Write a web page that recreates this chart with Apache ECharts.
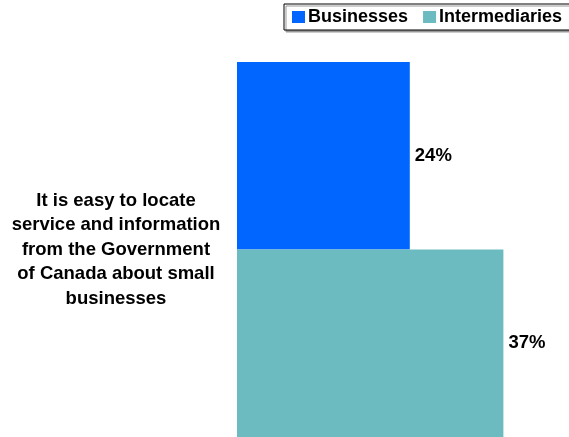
<!DOCTYPE html>
<html>
<head>
<meta charset="utf-8">
<script src="https://cdn.jsdelivr.net/npm/echarts@6/dist/echarts.min.js"></script>
<style>
  html, body { margin: 0; padding: 0; background: #fff; }
  #chart { width: 569px; height: 437px; }
</style>
</head>
<body>
<div id="chart"></div>
<script>
// Survey statement and share of respondents agreeing, by group
const categories = ['It is easy to locate\nservice and information\nfrom the Government\nof Canada about small\nbusinesses'];
const seriesNames = ['Businesses', 'Intermediaries'];
const businesses = [24];
const intermediaries = [37];

const FONT = 'Arial, "Liberation Sans", sans-serif';

const chart = echarts.init(document.getElementById('chart'), null, { renderer: 'canvas' });

chart.setOption({
  animation: false,
  backgroundColor: '#ffffff',
  legend: {
    data: seriesNames,
    orient: 'horizontal',
    left: 284,
    top: 4,
    width: 320,
    padding: [4, 20, 4, 8],
    itemWidth: 13,
    itemHeight: 12,
    itemGap: 15,
    icon: 'rect',
    borderColor: '#000',
    borderWidth: 1,
    backgroundColor: '#fff',
    shadowColor: '#999',
    shadowOffsetX: 2,
    shadowOffsetY: 2,
    shadowBlur: 0,
    textStyle: { fontFamily: FONT, fontWeight: 'bold', fontSize: 18, color: '#000', padding: [0, 0, 0, -2] }
  },
  grid: { left: 237, top: 62, width: 288, height: 376, containLabel: false },
  xAxis: {
    type: 'value',
    min: 0,
    max: 40,
    show: false
  },
  yAxis: {
    type: 'category',
    data: categories,
    inverse: true,
    axisLine: { show: false },
    axisTick: { show: false },
    axisLabel: {
      margin: 121,
      align: 'center',
      lineHeight: 24.5,
      fontFamily: FONT,
      fontWeight: 'bold',
      fontSize: 18.5,
      color: '#000'
    }
  },
  series: [
    {
      name: seriesNames[0],
      type: 'bar',
      data: businesses,
      barGap: '0%',
      barCategoryGap: '0%',
      itemStyle: { color: '#0066ff' },
      label: {
        show: true, position: 'right', distance: 5, formatter: '{c}%',
        fontFamily: FONT, fontWeight: 'bold', fontSize: 18.5, color: '#000'
      }
    },
    {
      name: seriesNames[1],
      type: 'bar',
      data: intermediaries,
      barGap: '0%',
      barCategoryGap: '0%',
      itemStyle: { color: '#6bbbc0' },
      label: {
        show: true, position: 'right', distance: 5, formatter: '{c}%',
        fontFamily: FONT, fontWeight: 'bold', fontSize: 18.5, color: '#000'
      }
    }
  ]
});
</script>
</body>
</html>
